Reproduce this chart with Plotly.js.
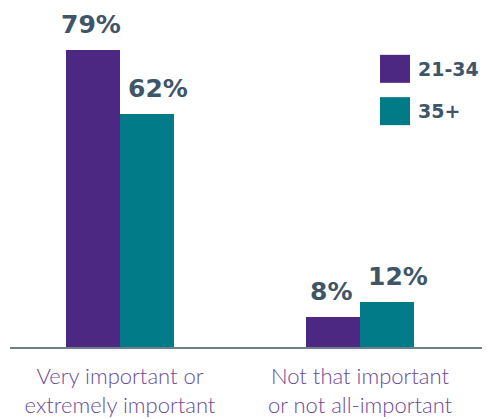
<!DOCTYPE html>
<html><head><meta charset="utf-8">
<script src="https://cdn.plot.ly/plotly-3.0.1.min.js"></script>
<style>html,body{margin:0;padding:0;background:#fff}</style>
</head><body>
<div id="chart" style="width:487px;height:419px"></div>
<script>
var categories = ["Very important or<br>extremely important", "Not that important<br>or not all-important"];
var series1Name = "21-34";
var series2Name = "35+";
var series1Values = [79, 8];
var series2Values = [62, 12];
var purple = "#4c2882";
var teal = "#007b87";
var labelColor = "#3f5568";
var labelFont = "DejaVu Sans";

var traces = [
  {type: "bar", name: series1Name, x: categories, y: series1Values, marker: {color: purple}, hoverinfo: "none"},
  {type: "bar", name: series2Name, x: categories, y: series2Values, marker: {color: teal}, hoverinfo: "none"}
];

var annotations = [];
function addLabels(vals, shift) {
  vals.forEach(function (v, i) {
    annotations.push({x: categories[i], y: v, xref: "x", yref: "y", text: "<b>" + v + "%</b>", showarrow: false,
      xanchor: "center", yanchor: "bottom", xshift: shift, yshift: 9,
      font: {family: labelFont, size: 25, color: labelColor}});
  });
}
addLabels(series1Values, -29);
addLabels(series2Values, 38);

// legend
var legend = [[series1Name, purple, 0.842], [series2Name, teal, 0.72]];
var shapes = [];
legend.forEach(function (it) {
  shapes.push({type: "rect", xref: "paper", yref: "paper", x0: (380 - 10) / 472, x1: (410 - 10) / 472,
    y0: it[2] - 28 / 347, y1: it[2], fillcolor: it[1], line: {width: 0}});
  annotations.push({xref: "paper", yref: "paper", x: (416 - 10) / 472, y: it[2] - 14 / 347, text: "<b>" + it[0] + "</b>",
    showarrow: false, xanchor: "left", yanchor: "middle", font: {family: labelFont, size: 19, color: labelColor}});
});

var layout = {
  width: 487, height: 419,
  margin: {l: 10, r: 5, t: 0, b: 72},
  paper_bgcolor: "#fff", plot_bgcolor: "#fff",
  showlegend: false,
  bargap: 0.55, bargroupgap: 0,
  xaxis: {range: [-0.4583, 1.5083], showline: true, linecolor: "#6e7f8d", linewidth: 2, ticks: "",
    tickfont: {family: "Lato", size: 22, color: "#6b4a9b", weight: 300}, fixedrange: true, ticklabelstandoff: 9},
  yaxis: {range: [0, 92.3], visible: false, showgrid: false, zeroline: false, fixedrange: true},
  annotations: annotations,
  shapes: shapes,
  font: {family: "Lato"}
};
Plotly.newPlot("chart", traces, layout, {displayModeBar: false, staticPlot: true});
</script>
</body></html>
